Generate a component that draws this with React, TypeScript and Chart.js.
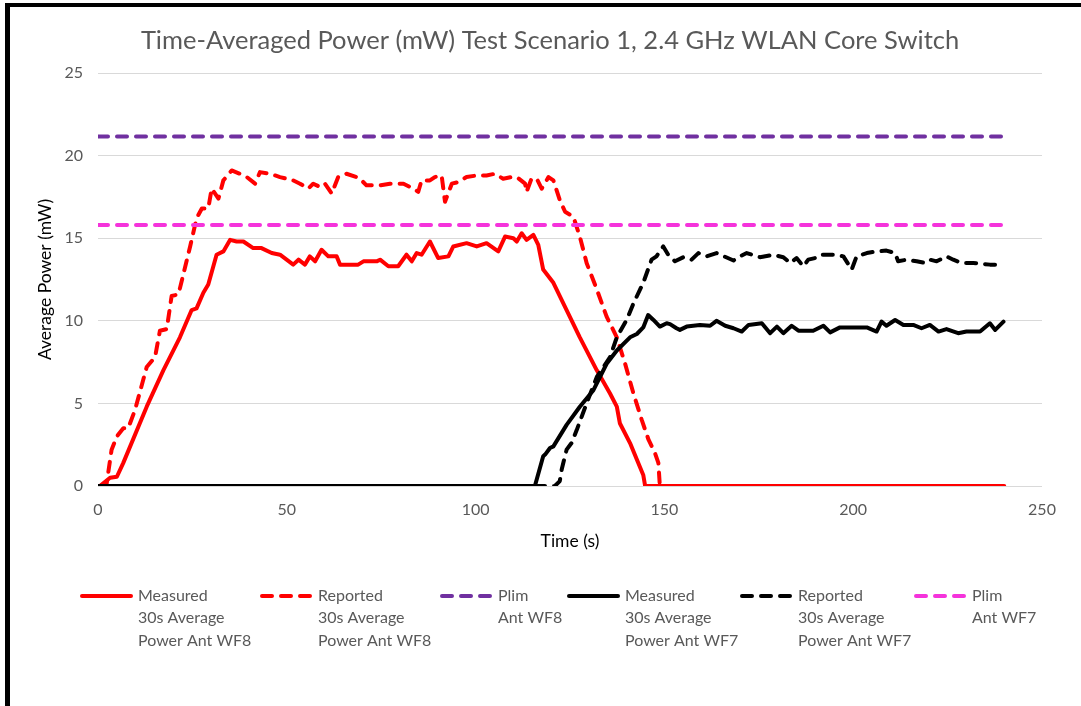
import React, { useEffect, useRef } from "react";
import { Chart, registerables } from "chart.js";

Chart.register(...registerables);

const TITLE = "Time-Averaged Power (mW) Test Scenario 1, 2.4 GHz WLAN Core Switch";
const X_TITLE = "Time (s)";
const Y_TITLE = "Average Power (mW)";

const SERIES_LABELS = [
  "Measured\n30s Average\nPower Ant WF8",
  "Reported\n30s Average\nPower Ant WF8",
  "Plim\nAnt WF8",
  "Measured\n30s Average\nPower Ant WF7",
  "Reported\n30s Average\nPower Ant WF7",
  "Plim\nAnt WF7",
];

// Measured 30s average power, Ant WF8
const measWF8Time = [0.5, 3.2, 5, 6.7, 12.9, 17.3, 21.7, 24.8, 26.1, 27.9, 29.2, 31.4, 33.2, 35, 36.7, 38.5, 41.1, 43.3, 46, 48.2, 51.7, 53.1, 54.8, 56.1, 57.5, 59.2, 61, 63.2, 64.1, 68.9, 70.3, 73.8, 74.7, 76.9, 79.5, 81.7, 83.1, 84.4, 85.7, 87.9, 90.1, 92.8, 94.1, 97.6, 100.3, 102.9, 106, 107.8, 110, 110.9, 112.2, 113.5, 115.3, 116.6, 117.9, 120.6, 124.1, 127.6, 132.1, 135.6, 137.4, 138.2, 140.9, 142.7, 144.4, 144.9, 240];
const measWF8Power = [0, 0.5, 0.56, 1.4, 4.8, 7.0, 9.0, 10.65, 10.75, 11.7, 12.2, 14.0, 14.2, 14.9, 14.8, 14.8, 14.4, 14.4, 14.1, 14.0, 13.4, 13.7, 13.4, 13.9, 13.6, 14.3, 13.9, 13.9, 13.4, 13.4, 13.6, 13.6, 13.7, 13.3, 13.3, 14.0, 13.6, 14.1, 14.0, 14.8, 13.8, 13.9, 14.5, 14.7, 14.5, 14.7, 14.2, 15.1, 15.0, 14.8, 15.3, 14.9, 15.2, 14.6, 13.1, 12.3, 10.65, 9.0, 7.0, 5.6, 4.8, 3.8, 2.6, 1.6, 0.67, 0, 0];

// Reported 30s average power, Ant WF8
const repWF8Time = [0.5, 2.3, 3.6, 5, 6.7, 8, 9.8, 12.9, 15.1, 16.4, 18.2, 19.5, 21.3, 24.4, 26.1, 27.5, 29.2, 30.1, 31.9, 33.2, 35.4, 37.6, 39.4, 41.6, 42.9, 45.6, 48.2, 51.7, 53.5, 55.7, 57, 58.8, 60.1, 61.9, 63.6, 65.8, 68.5, 69.8, 71.1, 74.7, 77.3, 80.9, 83.5, 84.8, 85.7, 87.9, 89.2, 91, 91.9, 93.7, 95.4, 97.6, 100.3, 102.9, 105.1, 107.3, 109.5, 110.9, 113.1, 113.5, 114.8, 116.2, 117.5, 119.3, 120.6, 122.3, 123.7, 125.9, 127.6, 129.4, 132.1, 134.7, 137.4, 139.6, 141.8, 144, 145.8, 147.5, 148.4, 148.8, 240];
const repWF8Power = [0, 0.16, 2.2, 3.0, 3.5, 3.5, 4.6, 7.2, 7.8, 9.4, 9.5, 11.5, 11.6, 14.5, 16.2, 16.8, 16.8, 18.0, 17.4, 18.5, 19.1, 18.9, 18.7, 18.3, 19.0, 18.9, 18.7, 18.5, 18.3, 18.0, 18.3, 18.1, 18.3, 17.7, 18.7, 18.9, 18.7, 18.5, 18.2, 18.2, 18.3, 18.3, 18.0, 17.8, 18.5, 18.5, 18.7, 18.8, 17.2, 18.3, 18.4, 18.7, 18.8, 18.8, 18.9, 18.6, 18.7, 18.7, 18.3, 17.8, 18.6, 18.6, 18.0, 18.7, 18.5, 17.3, 16.6, 16.3, 15.1, 13.5, 11.9, 10.25, 9.0, 7.4, 5.6, 4.0, 2.8, 2.0, 1.4, 0, 0];

// Plim Ant WF8 / WF7
const plimTime = [0, 240];
const plimWF8 = [21.15, 21.15];
const plimWF7 = [15.8, 15.8];

// Measured 30s average power, Ant WF7
const measWF7Time = [0, 115.7, 117.9, 118.4, 119.7, 120.6, 124.1, 127.6, 131.2, 134.7, 137.4, 140.9, 142.7, 144.4, 145.7, 147.1, 148.8, 150.6, 151.5, 153.2, 154.1, 155.9, 159.4, 162.1, 163.8, 166.1, 168.3, 170.5, 172.3, 175.8, 178, 179.8, 181.5, 183.7, 185.5, 189.4, 192.1, 193.9, 196.5, 203.6, 206.2, 207.5, 208.8, 211.1, 213.3, 215.9, 218.1, 220.3, 222.6, 224.7, 227.8, 230, 233.6, 236.2, 237.6, 239.8];
const measWF7Power = [0, 0, 1.8, 1.9, 2.3, 2.4, 3.7, 4.8, 5.8, 7.4, 8.2, 9.0, 9.2, 9.6, 10.35, 10.05, 9.65, 9.85, 9.8, 9.55, 9.45, 9.65, 9.75, 9.7, 10.0, 9.7, 9.55, 9.35, 9.75, 9.85, 9.25, 9.65, 9.25, 9.7, 9.4, 9.4, 9.7, 9.3, 9.6, 9.6, 9.35, 9.95, 9.7, 10.05, 9.75, 9.75, 9.55, 9.75, 9.35, 9.5, 9.25, 9.35, 9.35, 9.85, 9.45, 9.95];

// Reported 30s average power, Ant WF7
const repWF7Time = [0, 121, 122.3, 122.8, 124.1, 125.4, 126.8, 129.4, 132.1, 135.6, 137.4, 140, 141.8, 144.4, 146.6, 147.9, 149.7, 151, 152.8, 155, 157.2, 159, 161.2, 163.8, 168.3, 170, 171.8, 175.3, 178.8, 181.5, 183.3, 185, 186.8, 188.1, 189.9, 191.2, 194.7, 197.4, 199.6, 200.9, 203.6, 206.2, 208.8, 211.1, 211.9, 214.1, 216.8, 219, 220.3, 222.1, 224.7, 226.5, 228.7, 231.8, 236.2, 239.8];
const repWF7Power = [0, 0, 0.3, 1.0, 2.2, 2.6, 3.4, 5.0, 6.6, 7.8, 9.0, 10.05, 11.05, 12.3, 13.7, 13.9, 14.5, 14.0, 13.6, 13.85, 13.7, 14.1, 13.9, 14.1, 13.65, 13.9, 14.1, 13.85, 14.0, 13.85, 13.5, 13.8, 13.3, 13.7, 13.8, 14.0, 14.0, 13.9, 13.1, 13.9, 14.1, 14.2, 14.25, 14.1, 13.6, 13.7, 13.6, 13.5, 13.7, 13.6, 13.9, 13.7, 13.5, 13.5, 13.4, 13.4];

const X_MIN = 0;
const X_MAX = 250;
const X_STEP = 50;
const Y_MIN = 0;
const Y_MAX = 25;
const Y_STEP = 5;

const FONT = "Lato, 'Liberation Sans', sans-serif";
const GRAY_TEXT = "#595959";
const DASH = [10, 9];
// legend entry left edges (layout)
const LEGEND_ITEM_LEFT = [80, 260, 440, 567, 740, 914];

function pts(xs: number[], ys: number[]) {
  return xs.map((x, i) => ({ x, y: ys[i] }));
}

const multiLineLegend = {
  id: "multiLineLegend",
  afterDraw(chart: any) {
    const ctx = chart.ctx as CanvasRenderingContext2D;
    const fontSize = 16;
    const rowH = 22.3;
    const y0 = 596;
    const sample = 53;
    const gap = 5;
    ctx.save();
    ctx.font = `${fontSize}px ${FONT}`;
    ctx.textBaseline = "middle";
    ctx.textAlign = "left";
    chart.data.datasets.forEach((ds: any, k: number) => {
      const x = LEGEND_ITEM_LEFT[k];
      const lines = String(ds.label).split("\n");
      ctx.strokeStyle = ds.borderColor;
      ctx.lineWidth = 4;
      ctx.lineCap = "round";
      ctx.setLineDash(ds.borderDash || []);
      ctx.beginPath();
      ctx.moveTo(x + 2, y0);
      ctx.lineTo(x + sample - 2, y0);
      ctx.stroke();
      ctx.setLineDash([]);
      ctx.fillStyle = GRAY_TEXT;
      lines.forEach((ln, i) => {
        ctx.fillText(ln, x + sample + gap, y0 + i * rowH);
      });
    });
    ctx.restore();
  },
};

export default function App() {
  const ref = useRef<HTMLCanvasElement | null>(null);

  useEffect(() => {
    if (!ref.current) return;
    const common = {
      pointRadius: 0,
      pointHoverRadius: 0,
      borderWidth: 4,
      tension: 0,
      fill: false,
      borderJoinStyle: "round" as const,
      borderCapStyle: "round" as const,
    };
    const chart = new Chart(ref.current, {
      type: "line",
      data: {
        datasets: [
          { ...common, label: SERIES_LABELS[0], data: pts(measWF8Time, measWF8Power), borderColor: "#FF0000", order: 6 },
          { ...common, label: SERIES_LABELS[1], data: pts(repWF8Time, repWF8Power), borderColor: "#FF0000", borderDash: DASH, order: 5 },
          { ...common, label: SERIES_LABELS[2], data: pts(plimTime, plimWF8), borderColor: "#7030A0", borderDash: DASH, order: 4 },
          { ...common, label: SERIES_LABELS[3], data: pts(measWF7Time, measWF7Power), borderColor: "#000000", order: 3 },
          { ...common, label: SERIES_LABELS[4], data: pts(repWF7Time, repWF7Power), borderColor: "#000000", borderDash: DASH, order: 2 },
          { ...common, label: SERIES_LABELS[5], data: pts(plimTime, plimWF7), borderColor: "#F533DB", borderDash: DASH, order: 1 },
        ],
      },
      options: {
        responsive: false,
        animation: false,
        parsing: false as any,
        layout: { padding: { left: 58, right: 39, top: 0, bottom: 154.5 } },
        plugins: {
          legend: { display: false },
          tooltip: { enabled: false },
          title: {
            display: true,
            text: TITLE,
            color: GRAY_TEXT,
            font: { family: FONT, size: 25.5, weight: "normal", lineHeight: 1.2 },
            padding: { top: 25.7, bottom: 16.7 },
          },
        },
        scales: {
          x: {
            type: "linear",
            min: X_MIN,
            max: X_MAX,
            ticks: { stepSize: X_STEP, color: GRAY_TEXT, font: { family: FONT, size: 16 }, padding: 14, maxRotation: 0 },
            grid: { display: false, drawTicks: false },
            border: { display: false },
            title: { display: true, text: X_TITLE, color: "#000000", font: { family: FONT, size: 17.5, lineHeight: 1.2 }, padding: 0 },
            afterFit: (s: any) => {
              s.height = 65.5;
            },
          },
          y: {
            type: "linear",
            min: Y_MIN,
            max: Y_MAX,
            ticks: { stepSize: Y_STEP, color: GRAY_TEXT, font: { family: FONT, size: 16 }, padding: 15 },
            grid: { color: "#D9D9D9", lineWidth: 1, drawTicks: false },
            border: { display: false },
            title: { display: true, text: Y_TITLE, color: "#000000", font: { family: FONT, size: 17.5, lineHeight: 1.2 }, padding: { top: -23, bottom: 0 } },
            afterFit: (s: any) => {
              s.width = 40;
            },
          },
        },
      },
      plugins: [multiLineLegend],
    });
    return () => chart.destroy();
  }, []);

  return (
    <div style={{ position: "absolute", left: 0, top: 0, width: 1081, height: 706, background: "#fff", overflow: "hidden" }}>
      <canvas ref={ref} width={1081} height={706} style={{ position: "absolute", left: 0, top: 0 }} />
      <div
        style={{
          position: "absolute",
          left: 5,
          top: 3,
          width: 1076,
          height: 703,
          borderLeft: "5px solid #000",
          borderTop: "4px solid #000",
          boxSizing: "border-box",
          pointerEvents: "none",
        }}
      />
    </div>
  );
}
